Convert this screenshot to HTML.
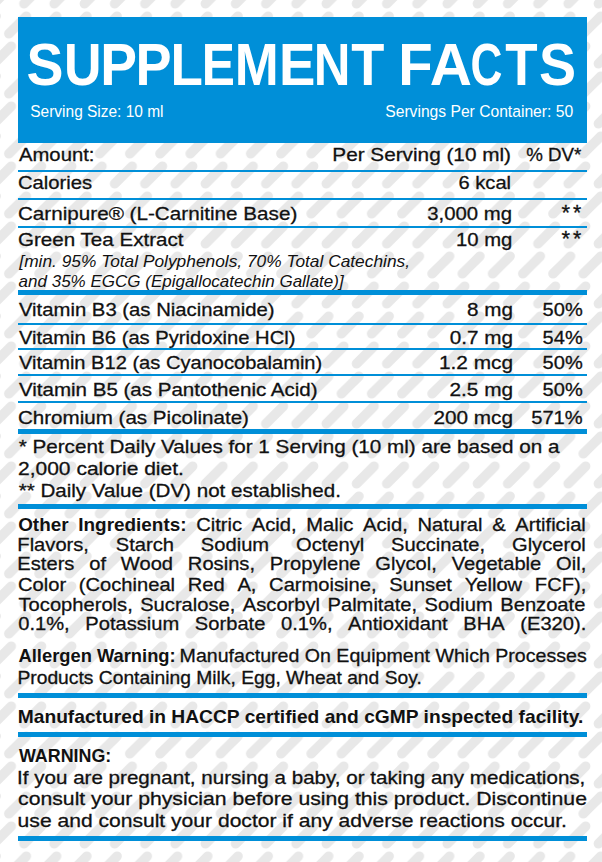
<!DOCTYPE html>
<html><head><meta charset="utf-8"><style>
html,body{margin:0;padding:0;background:#fff;width:602px;height:862px;overflow:hidden}
svg{display:block}
text{font-family:"Liberation Sans",sans-serif;}
</style></head><body>
<svg width="602" height="862" viewBox="0 0 602 862">
<defs>
<pattern id="dash" patternUnits="userSpaceOnUse" width="30.233" height="60" x="17.6" y="40">
<g stroke="#e8e8e8" stroke-width="9.6" stroke-linecap="round">
<line x1="6.37" y1="23.75" x2="23.87" y2="6.25"/>
<line x1="-8.75" y1="53.75" x2="8.75" y2="36.25"/>
<line x1="21.48" y1="53.75" x2="38.98" y2="36.25"/>
</g>
</pattern>
</defs>
<rect width="602" height="862" fill="#fff"/>
<rect width="602" height="862" fill="url(#dash)"/>
<rect x="18" y="17" width="569" height="126" fill="#008fd8"/><rect x="18" y="170" width="569" height="2" fill="#008fd8"/><rect x="18" y="198" width="569" height="2" fill="#008fd8"/><rect x="18" y="226" width="569" height="2" fill="#008fd8"/><rect x="18" y="290" width="569" height="5" fill="#008fd8"/><rect x="18" y="323" width="569" height="2" fill="#008fd8"/><rect x="18" y="348" width="569" height="2" fill="#008fd8"/><rect x="18" y="374" width="569" height="2" fill="#008fd8"/><rect x="18" y="401" width="569" height="2" fill="#008fd8"/><rect x="18" y="429" width="569" height="5" fill="#008fd8"/><rect x="18" y="504" width="569" height="5" fill="#008fd8"/><rect x="18" y="693" width="569" height="5" fill="#008fd8"/><rect x="18" y="732" width="569" height="5" fill="#008fd8"/><rect x="18" y="836" width="569" height="5" fill="#008fd8"/>
<text x="26.40" y="85.00" fill="#ffffff" textLength="36.96" lengthAdjust="spacingAndGlyphs" style="font-size:59.6px;stroke:#ffffff;stroke-width:0px;"><tspan style="font-weight:bold;font-style:normal;stroke-width:0">S</tspan></text>
<text x="64.08" y="85.00" fill="#ffffff" textLength="37.48" lengthAdjust="spacingAndGlyphs" style="font-size:59.6px;stroke:#ffffff;stroke-width:0px;"><tspan style="font-weight:bold;font-style:normal;stroke-width:0">U</tspan></text>
<text x="100.31" y="85.00" fill="#ffffff" textLength="36.77" lengthAdjust="spacingAndGlyphs" style="font-size:59.6px;stroke:#ffffff;stroke-width:0px;"><tspan style="font-weight:bold;font-style:normal;stroke-width:0">P</tspan></text>
<text x="135.58" y="85.00" fill="#ffffff" textLength="36.07" lengthAdjust="spacingAndGlyphs" style="font-size:59.6px;stroke:#ffffff;stroke-width:0px;"><tspan style="font-weight:bold;font-style:normal;stroke-width:0">P</tspan></text>
<text x="170.45" y="85.00" fill="#ffffff" textLength="32.38" lengthAdjust="spacingAndGlyphs" style="font-size:59.6px;stroke:#ffffff;stroke-width:0px;"><tspan style="font-weight:bold;font-style:normal;stroke-width:0">L</tspan></text>
<text x="201.87" y="85.00" fill="#ffffff" textLength="33.17" lengthAdjust="spacingAndGlyphs" style="font-size:59.6px;stroke:#ffffff;stroke-width:0px;"><tspan style="font-weight:bold;font-style:normal;stroke-width:0">E</tspan></text>
<text x="234.87" y="85.00" fill="#ffffff" textLength="43.96" lengthAdjust="spacingAndGlyphs" style="font-size:59.6px;stroke:#ffffff;stroke-width:0px;"><tspan style="font-weight:bold;font-style:normal;stroke-width:0">M</tspan></text>
<text x="278.95" y="85.00" fill="#ffffff" textLength="36.38" lengthAdjust="spacingAndGlyphs" style="font-size:59.6px;stroke:#ffffff;stroke-width:0px;"><tspan style="font-weight:bold;font-style:normal;stroke-width:0">E</tspan></text>
<text x="313.80" y="85.00" fill="#ffffff" textLength="36.73" lengthAdjust="spacingAndGlyphs" style="font-size:59.6px;stroke:#ffffff;stroke-width:0px;"><tspan style="font-weight:bold;font-style:normal;stroke-width:0">N</tspan></text>
<text x="351.29" y="85.00" fill="#ffffff" textLength="33.09" lengthAdjust="spacingAndGlyphs" style="font-size:59.6px;stroke:#ffffff;stroke-width:0px;"><tspan style="font-weight:bold;font-style:normal;stroke-width:0">T</tspan></text>
<text x="398.23" y="85.00" fill="#ffffff" textLength="34.44" lengthAdjust="spacingAndGlyphs" style="font-size:59.6px;stroke:#ffffff;stroke-width:0px;"><tspan style="font-weight:bold;font-style:normal;stroke-width:0">F</tspan></text>
<text x="429.75" y="85.00" fill="#ffffff" textLength="42.20" lengthAdjust="spacingAndGlyphs" style="font-size:59.6px;stroke:#ffffff;stroke-width:0px;"><tspan style="font-weight:bold;font-style:normal;stroke-width:0">A</tspan></text>
<text x="470.59" y="85.00" fill="#ffffff" textLength="31.92" lengthAdjust="spacingAndGlyphs" style="font-size:59.6px;stroke:#ffffff;stroke-width:0px;"><tspan style="font-weight:bold;font-style:normal;stroke-width:0">C</tspan></text>
<text x="505.30" y="85.00" fill="#ffffff" textLength="32.36" lengthAdjust="spacingAndGlyphs" style="font-size:59.6px;stroke:#ffffff;stroke-width:0px;"><tspan style="font-weight:bold;font-style:normal;stroke-width:0">T</tspan></text>
<text x="538.90" y="85.00" fill="#ffffff" textLength="37.07" lengthAdjust="spacingAndGlyphs" style="font-size:59.6px;stroke:#ffffff;stroke-width:0px;"><tspan style="font-weight:bold;font-style:normal;stroke-width:0">S</tspan></text>
<text x="30.30" y="117.00" fill="#ffffff" textLength="133.24" lengthAdjust="spacingAndGlyphs" style="font-size:17.4px;stroke:#ffffff;stroke-width:0px;"><tspan style="font-weight:normal;font-style:normal">Serving Size: 10 ml</tspan></text>
<text x="385.29" y="117.00" fill="#ffffff" textLength="187.82" lengthAdjust="spacingAndGlyphs" style="font-size:17.4px;stroke:#ffffff;stroke-width:0px;"><tspan style="font-weight:normal;font-style:normal">Servings Per Container: 50</tspan></text>
<text x="18.96" y="160.60" fill="#111111" textLength="75.49" lengthAdjust="spacingAndGlyphs" style="font-size:19.0px;stroke:#111111;stroke-width:0.3px;"><tspan style="font-weight:normal;font-style:normal">Amount:</tspan></text>
<text x="332.30" y="160.60" fill="#111111" textLength="178.69" lengthAdjust="spacingAndGlyphs" style="font-size:19.0px;stroke:#111111;stroke-width:0.3px;"><tspan style="font-weight:normal;font-style:normal">Per Serving (10 ml)</tspan></text>
<text x="526.13" y="160.60" fill="#111111" textLength="55.16" lengthAdjust="spacingAndGlyphs" style="font-size:19.0px;stroke:#111111;stroke-width:0.3px;"><tspan style="font-weight:normal;font-style:normal">% DV*</tspan></text>
<text x="17.97" y="189.30" fill="#111111" textLength="74.16" lengthAdjust="spacingAndGlyphs" style="font-size:19.0px;stroke:#111111;stroke-width:0.3px;"><tspan style="font-weight:normal;font-style:normal">Calories</tspan></text>
<text x="458.58" y="189.30" fill="#111111" textLength="52.46" lengthAdjust="spacingAndGlyphs" style="font-size:19.0px;stroke:#111111;stroke-width:0.3px;"><tspan style="font-weight:normal;font-style:normal">6 kcal</tspan></text>
<text x="17.95" y="219.60" fill="#111111" textLength="279.33" lengthAdjust="spacingAndGlyphs" style="font-size:19.0px;stroke:#111111;stroke-width:0.3px;"><tspan style="font-weight:normal;font-style:normal">Carnipure® (L-Carnitine Base)</tspan></text>
<text x="427.23" y="219.60" fill="#111111" textLength="84.78" lengthAdjust="spacingAndGlyphs" style="font-size:19.0px;stroke:#111111;stroke-width:0.3px;"><tspan style="font-weight:normal;font-style:normal">3,000 mg</tspan></text>
<text x="561.64" y="219.90" fill="#111111" textLength="8.60" lengthAdjust="spacingAndGlyphs" style="font-size:21.6px;stroke:#111111;stroke-width:0.3px;"><tspan style="font-weight:normal;font-style:normal">*</tspan></text>
<text x="572.96" y="219.90" fill="#111111" textLength="8.27" lengthAdjust="spacingAndGlyphs" style="font-size:21.6px;stroke:#111111;stroke-width:0.3px;"><tspan style="font-weight:normal;font-style:normal">*</tspan></text>
<text x="17.96" y="245.60" fill="#111111" textLength="165.59" lengthAdjust="spacingAndGlyphs" style="font-size:19.0px;stroke:#111111;stroke-width:0.3px;"><tspan style="font-weight:normal;font-style:normal">Green Tea Extract</tspan></text>
<text x="455.96" y="245.60" fill="#111111" textLength="56.35" lengthAdjust="spacingAndGlyphs" style="font-size:19.0px;stroke:#111111;stroke-width:0.3px;"><tspan style="font-weight:normal;font-style:normal">10 mg</tspan></text>
<text x="561.64" y="246.10" fill="#111111" textLength="8.60" lengthAdjust="spacingAndGlyphs" style="font-size:21.6px;stroke:#111111;stroke-width:0.3px;"><tspan style="font-weight:normal;font-style:normal">*</tspan></text>
<text x="572.96" y="246.10" fill="#111111" textLength="8.27" lengthAdjust="spacingAndGlyphs" style="font-size:21.6px;stroke:#111111;stroke-width:0.3px;"><tspan style="font-weight:normal;font-style:normal">*</tspan></text>
<text x="19.33" y="266.60" fill="#111111" textLength="390.68" lengthAdjust="spacingAndGlyphs" style="font-size:16.4px;stroke:#111111;stroke-width:0px;"><tspan style="font-weight:normal;font-style:italic">[min. 95% Total Polyphenols, 70% Total Catechins,</tspan></text>
<text x="18.62" y="287.00" fill="#111111" textLength="325.06" lengthAdjust="spacingAndGlyphs" style="font-size:16.4px;stroke:#111111;stroke-width:0px;"><tspan style="font-weight:normal;font-style:italic">and 35% EGCG (Epigallocatechin Gallate)]</tspan></text>
<text x="18.91" y="315.60" fill="#111111" textLength="255.65" lengthAdjust="spacingAndGlyphs" style="font-size:19.0px;stroke:#111111;stroke-width:0.3px;"><tspan style="font-weight:normal;font-style:normal">Vitamin B3 (as Niacinamide)</tspan></text>
<text x="467.10" y="315.60" fill="#111111" textLength="45.93" lengthAdjust="spacingAndGlyphs" style="font-size:19.0px;stroke:#111111;stroke-width:0.3px;"><tspan style="font-weight:normal;font-style:normal">8 mg</tspan></text>
<text x="542.60" y="315.60" fill="#111111" textLength="40.12" lengthAdjust="spacingAndGlyphs" style="font-size:19.0px;stroke:#111111;stroke-width:0.3px;"><tspan style="font-weight:normal;font-style:normal">50%</tspan></text>
<text x="18.91" y="343.90" fill="#111111" textLength="276.54" lengthAdjust="spacingAndGlyphs" style="font-size:19.0px;stroke:#111111;stroke-width:0.3px;"><tspan style="font-weight:normal;font-style:normal">Vitamin B6 (as Pyridoxine HCl)</tspan></text>
<text x="449.69" y="343.90" fill="#111111" textLength="63.34" lengthAdjust="spacingAndGlyphs" style="font-size:19.0px;stroke:#111111;stroke-width:0.3px;"><tspan style="font-weight:normal;font-style:normal">0.7 mg</tspan></text>
<text x="542.60" y="343.90" fill="#111111" textLength="40.12" lengthAdjust="spacingAndGlyphs" style="font-size:19.0px;stroke:#111111;stroke-width:0.3px;"><tspan style="font-weight:normal;font-style:normal">54%</tspan></text>
<text x="18.91" y="369.20" fill="#111111" textLength="303.33" lengthAdjust="spacingAndGlyphs" style="font-size:19.0px;stroke:#111111;stroke-width:0.3px;"><tspan style="font-weight:normal;font-style:normal">Vitamin B12 (as Cyanocobalamin)</tspan></text>
<text x="438.91" y="369.20" fill="#111111" textLength="74.13" lengthAdjust="spacingAndGlyphs" style="font-size:19.0px;stroke:#111111;stroke-width:0.3px;"><tspan style="font-weight:normal;font-style:normal">1.2 mcg</tspan></text>
<text x="542.60" y="369.20" fill="#111111" textLength="40.12" lengthAdjust="spacingAndGlyphs" style="font-size:19.0px;stroke:#111111;stroke-width:0.3px;"><tspan style="font-weight:normal;font-style:normal">50%</tspan></text>
<text x="18.91" y="395.60" fill="#111111" textLength="298.66" lengthAdjust="spacingAndGlyphs" style="font-size:19.0px;stroke:#111111;stroke-width:0.3px;"><tspan style="font-weight:normal;font-style:normal">Vitamin B5 (as Pantothenic Acid)</tspan></text>
<text x="449.45" y="395.60" fill="#111111" textLength="63.59" lengthAdjust="spacingAndGlyphs" style="font-size:19.0px;stroke:#111111;stroke-width:0.3px;"><tspan style="font-weight:normal;font-style:normal">2.5 mg</tspan></text>
<text x="542.60" y="395.60" fill="#111111" textLength="40.12" lengthAdjust="spacingAndGlyphs" style="font-size:19.0px;stroke:#111111;stroke-width:0.3px;"><tspan style="font-weight:normal;font-style:normal">50%</tspan></text>
<text x="17.95" y="423.60" fill="#111111" textLength="231.02" lengthAdjust="spacingAndGlyphs" style="font-size:19.0px;stroke:#111111;stroke-width:0.3px;"><tspan style="font-weight:normal;font-style:normal">Chromium (as Picolinate)</tspan></text>
<text x="433.46" y="423.60" fill="#111111" textLength="79.58" lengthAdjust="spacingAndGlyphs" style="font-size:19.0px;stroke:#111111;stroke-width:0.3px;"><tspan style="font-weight:normal;font-style:normal">200 mcg</tspan></text>
<text x="531.19" y="423.60" fill="#111111" textLength="51.52" lengthAdjust="spacingAndGlyphs" style="font-size:19.0px;stroke:#111111;stroke-width:0.3px;"><tspan style="font-weight:normal;font-style:normal">571%</tspan></text>
<text x="18.67" y="452.90" fill="#111111" textLength="540.73" lengthAdjust="spacingAndGlyphs" style="font-size:19.0px;stroke:#111111;stroke-width:0.3px;"><tspan style="font-weight:normal;font-style:normal">* Percent Daily Values for 1 Serving (10 ml) are based on a</tspan></text>
<text x="17.94" y="474.80" fill="#111111" textLength="165.98" lengthAdjust="spacingAndGlyphs" style="font-size:19.0px;stroke:#111111;stroke-width:0.3px;"><tspan style="font-weight:normal;font-style:normal">2,000 calorie diet.</tspan></text>
<text x="18.67" y="496.80" fill="#111111" textLength="322.21" lengthAdjust="spacingAndGlyphs" style="font-size:19.0px;stroke:#111111;stroke-width:0.3px;"><tspan style="font-weight:normal;font-style:normal">** Daily Value (DV) not established.</tspan></text>
<text y="530.70" fill="#111111" style="font-size:19.0px;stroke:#111111;stroke-width:0.3px;"><tspan x="18.17" textLength="50.43" lengthAdjust="spacingAndGlyphs" style="font-weight:bold;font-style:normal;stroke-width:0">Other</tspan><tspan x="78.32" textLength="108.19" lengthAdjust="spacingAndGlyphs" style="font-weight:bold;font-style:normal;stroke-width:0">Ingredients:</tspan><tspan x="196.23" textLength="45.88" lengthAdjust="spacingAndGlyphs" style="font-weight:normal;font-style:normal">Citric</tspan><tspan x="251.82" textLength="44.79" lengthAdjust="spacingAndGlyphs" style="font-weight:normal;font-style:normal">Acid,</tspan><tspan x="306.32" textLength="47.00" lengthAdjust="spacingAndGlyphs" style="font-weight:normal;font-style:normal">Malic</tspan><tspan x="363.04" textLength="44.79" lengthAdjust="spacingAndGlyphs" style="font-weight:normal;font-style:normal">Acid,</tspan><tspan x="417.54" textLength="64.92" lengthAdjust="spacingAndGlyphs" style="font-weight:normal;font-style:normal">Natural</tspan><tspan x="492.18" textLength="13.45" lengthAdjust="spacingAndGlyphs" style="font-weight:normal;font-style:normal">&amp;</tspan><tspan x="515.34" textLength="70.51" lengthAdjust="spacingAndGlyphs" style="font-weight:normal;font-style:normal">Artificial</tspan></text>
<text y="550.70" fill="#111111" style="font-size:19.0px;stroke:#111111;stroke-width:0.3px;"><tspan x="17.35" textLength="71.63" lengthAdjust="spacingAndGlyphs" style="font-weight:normal;font-style:normal">Flavors,</tspan><tspan x="115.81" textLength="58.22" lengthAdjust="spacingAndGlyphs" style="font-weight:normal;font-style:normal">Starch</tspan><tspan x="200.86" textLength="68.29" lengthAdjust="spacingAndGlyphs" style="font-weight:normal;font-style:normal">Sodium</tspan><tspan x="295.97" textLength="68.29" lengthAdjust="spacingAndGlyphs" style="font-weight:normal;font-style:normal">Octenyl</tspan><tspan x="391.09" textLength="94.06" lengthAdjust="spacingAndGlyphs" style="font-weight:normal;font-style:normal">Succinate,</tspan><tspan x="511.98" textLength="73.87" lengthAdjust="spacingAndGlyphs" style="font-weight:normal;font-style:normal">Glycerol</tspan></text>
<text y="570.30" fill="#111111" style="font-size:19.0px;stroke:#111111;stroke-width:0.3px;"><tspan x="17.35" textLength="57.09" lengthAdjust="spacingAndGlyphs" style="font-weight:normal;font-style:normal">Esters</tspan><tspan x="89.23" textLength="16.81" lengthAdjust="spacingAndGlyphs" style="font-weight:normal;font-style:normal">of</tspan><tspan x="120.84" textLength="52.25" lengthAdjust="spacingAndGlyphs" style="font-weight:normal;font-style:normal">Wood</tspan><tspan x="187.89" textLength="67.16" lengthAdjust="spacingAndGlyphs" style="font-weight:normal;font-style:normal">Rosins,</tspan><tspan x="269.85" textLength="90.70" lengthAdjust="spacingAndGlyphs" style="font-weight:normal;font-style:normal">Propylene</tspan><tspan x="375.34" textLength="61.56" lengthAdjust="spacingAndGlyphs" style="font-weight:normal;font-style:normal">Glycol,</tspan><tspan x="451.70" textLength="89.60" lengthAdjust="spacingAndGlyphs" style="font-weight:normal;font-style:normal">Vegetable</tspan><tspan x="556.10" textLength="30.21" lengthAdjust="spacingAndGlyphs" style="font-weight:normal;font-style:normal">Oil,</tspan></text>
<text y="590.50" fill="#111111" style="font-size:19.0px;stroke:#111111;stroke-width:0.3px;"><tspan x="17.98" textLength="48.13" lengthAdjust="spacingAndGlyphs" style="font-weight:normal;font-style:normal">Color</tspan><tspan x="78.80" textLength="96.28" lengthAdjust="spacingAndGlyphs" style="font-weight:normal;font-style:normal">(Cochineal</tspan><tspan x="187.77" textLength="36.95" lengthAdjust="spacingAndGlyphs" style="font-weight:normal;font-style:normal">Red</tspan><tspan x="237.41" textLength="19.03" lengthAdjust="spacingAndGlyphs" style="font-weight:normal;font-style:normal">A,</tspan><tspan x="269.13" textLength="107.46" lengthAdjust="spacingAndGlyphs" style="font-weight:normal;font-style:normal">Carmoisine,</tspan><tspan x="389.28" textLength="62.71" lengthAdjust="spacingAndGlyphs" style="font-weight:normal;font-style:normal">Sunset</tspan><tspan x="464.67" textLength="57.49" lengthAdjust="spacingAndGlyphs" style="font-weight:normal;font-style:normal">Yellow</tspan><tspan x="534.85" textLength="51.46" lengthAdjust="spacingAndGlyphs" style="font-weight:normal;font-style:normal">FCF),</tspan></text>
<text y="610.50" fill="#111111" style="font-size:19.0px;stroke:#111111;stroke-width:0.3px;"><tspan x="18.55" textLength="114.20" lengthAdjust="spacingAndGlyphs" style="font-weight:normal;font-style:normal">Tocopherols,</tspan><tspan x="140.20" textLength="95.17" lengthAdjust="spacingAndGlyphs" style="font-weight:normal;font-style:normal">Sucralose,</tspan><tspan x="242.83" textLength="77.23" lengthAdjust="spacingAndGlyphs" style="font-weight:normal;font-style:normal">Ascorbyl</tspan><tspan x="327.52" textLength="89.55" lengthAdjust="spacingAndGlyphs" style="font-weight:normal;font-style:normal">Palmitate,</tspan><tspan x="424.53" textLength="68.29" lengthAdjust="spacingAndGlyphs" style="font-weight:normal;font-style:normal">Sodium</tspan><tspan x="500.28" textLength="85.11" lengthAdjust="spacingAndGlyphs" style="font-weight:normal;font-style:normal">Benzoate</tspan></text>
<text y="630.40" fill="#111111" style="font-size:19.0px;stroke:#111111;stroke-width:0.3px;"><tspan x="18.21" textLength="51.51" lengthAdjust="spacingAndGlyphs" style="font-weight:normal;font-style:normal">0.1%,</tspan><tspan x="85.29" textLength="94.03" lengthAdjust="spacingAndGlyphs" style="font-weight:normal;font-style:normal">Potassium</tspan><tspan x="194.89" textLength="70.54" lengthAdjust="spacingAndGlyphs" style="font-weight:normal;font-style:normal">Sorbate</tspan><tspan x="280.99" textLength="51.51" lengthAdjust="spacingAndGlyphs" style="font-weight:normal;font-style:normal">0.1%,</tspan><tspan x="348.07" textLength="99.66" lengthAdjust="spacingAndGlyphs" style="font-weight:normal;font-style:normal">Antioxidant</tspan><tspan x="463.30" textLength="41.42" lengthAdjust="spacingAndGlyphs" style="font-weight:normal;font-style:normal">BHA</tspan><tspan x="520.29" textLength="66.05" lengthAdjust="spacingAndGlyphs" style="font-weight:normal;font-style:normal">(E320).</tspan></text>
<text x="18.54" y="662.40" fill="#111111" textLength="157.12" lengthAdjust="spacingAndGlyphs" style="font-size:19.0px;stroke:#111111;stroke-width:0px;"><tspan style="font-weight:bold;font-style:normal;stroke-width:0">Allergen Warning:</tspan></text>
<text x="179.59" y="662.40" fill="#111111" textLength="407.11" lengthAdjust="spacingAndGlyphs" style="font-size:19.0px;stroke:#111111;stroke-width:0.3px;"><tspan style="font-weight:normal;font-style:normal">Manufactured On Equipment Which Processes</tspan></text>
<text x="17.42" y="684.00" fill="#111111" textLength="404.34" lengthAdjust="spacingAndGlyphs" style="font-size:19.0px;stroke:#111111;stroke-width:0.3px;"><tspan style="font-weight:normal;font-style:normal">Products Containing Milk, Egg, Wheat and Soy.</tspan></text>
<text x="17.72" y="722.70" fill="#111111" textLength="565.61" lengthAdjust="spacingAndGlyphs" style="font-size:19.0px;stroke:#111111;stroke-width:0px;"><tspan style="font-weight:bold;font-style:normal;stroke-width:0">Manufactured in HACCP certified and cGMP inspected facility.</tspan></text>
<text x="18.98" y="761.60" fill="#111111" textLength="92.34" lengthAdjust="spacingAndGlyphs" style="font-size:19.0px;stroke:#111111;stroke-width:0px;"><tspan style="font-weight:bold;font-style:normal;stroke-width:0">WARNING:</tspan></text>
<text x="17.10" y="783.70" fill="#111111" textLength="568.25" lengthAdjust="spacingAndGlyphs" style="font-size:19.0px;stroke:#111111;stroke-width:0.3px;"><tspan style="font-weight:normal;font-style:normal">If you are pregnant, nursing a baby, or taking any medications,</tspan></text>
<text x="18.10" y="805.30" fill="#111111" textLength="568.84" lengthAdjust="spacingAndGlyphs" style="font-size:19.0px;stroke:#111111;stroke-width:0.3px;"><tspan style="font-weight:normal;font-style:normal">consult your physician before using this product. Discontinue</tspan></text>
<text x="17.63" y="827.20" fill="#111111" textLength="549.29" lengthAdjust="spacingAndGlyphs" style="font-size:19.0px;stroke:#111111;stroke-width:0.3px;"><tspan style="font-weight:normal;font-style:normal">use and consult your doctor if any adverse reactions occur.</tspan></text>
</svg>
</body></html>
